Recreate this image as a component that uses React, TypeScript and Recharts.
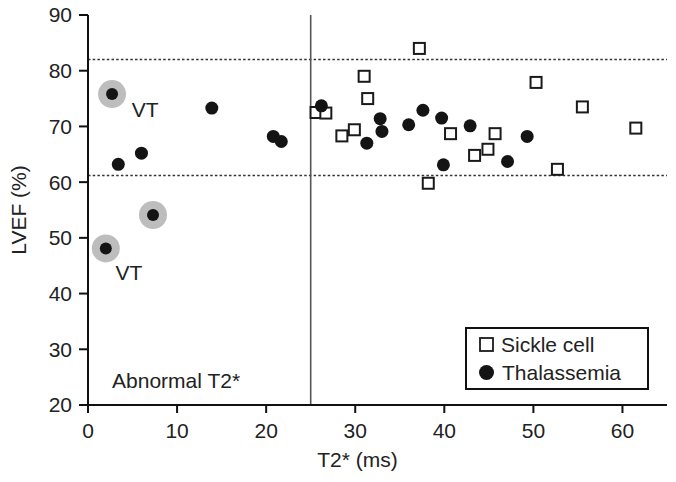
import React from 'react';
import { ScatterChart, Scatter, XAxis, YAxis, ReferenceLine } from 'recharts';

const sickleX = [25.6, 26.7, 28.5, 29.9, 31.0, 31.4, 37.2, 38.2, 40.7, 43.4, 44.9, 45.7, 50.3, 52.7, 55.5, 61.5];
const sickleY = [72.5, 72.4, 68.3, 69.4, 79.0, 75.0, 84.0, 59.8, 68.7, 64.8, 65.9, 68.7, 77.9, 62.3, 73.5, 69.7];

const thalX = [2.0, 2.7, 3.4, 6.0, 7.3, 13.9, 20.8, 21.7, 26.2, 31.3, 32.8, 33.0, 36.0, 37.6, 39.7, 39.9, 42.9, 47.1, 49.3];
const thalY = [48.1, 75.8, 63.2, 65.2, 54.1, 73.3, 68.2, 67.3, 73.7, 67.0, 71.4, 69.1, 70.3, 72.9, 71.5, 63.1, 70.1, 63.7, 68.2];
const thalHighlighted = [true, true, false, false, true, false, false, false, false, false, false, false, false, false, false, false, false, false, false];

const noteText = ['VT', 'VT', 'Abnormal T2*'];
const noteX = [4.9, 3.1, 2.7];
const noteY = [73.0, 43.7, 24.4];

const seriesNames = ['Sickle cell', 'Thalassemia'];
const xTicks = [0, 10, 20, 30, 40, 50, 60];
const yTicks = [20, 30, 40, 50, 60, 70, 80, 90];
const normalT2Cutoff = 25;
const lvefUpper = 82;
const lvefLower = 61.2;

const FONT = '"Liberation Sans", Arial, Helvetica, sans-serif';
const FS = 21;
const TXT = '#222';

const sickleData = sickleX.map((x, i) => ({ x, y: sickleY[i] }));
const thalData = thalX.map((x, i) => ({ x, y: thalY[i], hl: thalHighlighted[i] }));
const noteData = noteText.map((t, i) => ({ x: noteX[i], y: noteY[i], t }));

const SquareShape = (p: any) => {
  const s = 11;
  return <rect x={p.cx - s / 2} y={p.cy - s / 2} width={s} height={s} fill="#fff" stroke="#1a1a1a" strokeWidth={2} />;
};

const CircleShape = (p: any) => (
  <g>
    {p.payload && p.payload.hl ? <circle cx={p.cx} cy={p.cy} r={14} fill="#bdbdbd" /> : null}
    <circle cx={p.cx} cy={p.cy} r={p.payload && p.payload.hl ? 6 : 6.5} fill="#141414" />
  </g>
);

const NoteShape = (p: any) => (
  <text x={p.cx} y={p.cy} dominantBaseline="central" textAnchor="start" fontFamily={FONT} fontSize={FS} fill={TXT}>
    {p.payload.t}
  </text>
);

const LegendBox = () => (
  <svg width={185} height={64} style={{ display: 'block' }}>
    <rect x={1} y={1} width={182} height={61} fill="#fff" stroke="#111" strokeWidth={2} />
    <rect x={15} y={11} width={13} height={13} fill="#fff" stroke="#1a1a1a" strokeWidth={1.8} />
    <text x={36} y={17} dominantBaseline="central" fontFamily={FONT} fontSize={FS} fill={TXT}>{seriesNames[0]}</text>
    <circle cx={21.5} cy={45.5} r={7.5} fill="#141414" />
    <text x={37} y={45} dominantBaseline="central" fontFamily={FONT} fontSize={FS} fill={TXT}>{seriesNames[1]}</text>
  </svg>
);

export default function App() {
  return (
    <div style={{ position: 'absolute', left: 0, top: 0, width: 676, height: 482, background: '#fff' }}>
      <ScatterChart width={676} height={482} margin={{ top: 15, right: 9, bottom: 0, left: 0 }}>
        <XAxis
          type="number"
          dataKey="x"
          domain={[0, 65]}
          ticks={xTicks}
          interval={0}
          allowDataOverflow
          height={77}
          tickSize={8}
          tickMargin={10}
          axisLine={{ stroke: '#111', strokeWidth: 2 }}
          tickLine={{ stroke: '#111', strokeWidth: 2 }}
          tick={{ fontFamily: FONT, fontSize: FS, fill: TXT }}
          label={{
            content: (props: any) => {
              const vb = props.viewBox;
              return (
                <text x={vb.x + vb.width / 2 - 20} y={467} textAnchor="middle" fontFamily={FONT} fontSize={FS} fill={TXT}>
                  T2* (ms)
                </text>
              );
            },
          }}
        />
        <YAxis
          type="number"
          dataKey="y"
          domain={[20, 90]}
          ticks={yTicks}
          interval={0}
          allowDataOverflow
          width={88}
          tickSize={9}
          tickMargin={7}
          axisLine={{ stroke: '#111', strokeWidth: 2 }}
          tickLine={{ stroke: '#111', strokeWidth: 2 }}
          tick={{ fontFamily: FONT, fontSize: FS, fill: TXT }}
          label={{
            content: (props: any) => {
              const vb = props.viewBox;
              const cx = 18;
              const cy = vb.y + vb.height / 2;
              return (
                <text x={cx} y={cy} transform={`rotate(-90, ${cx}, ${cy})`} textAnchor="middle" dominantBaseline="central" fontFamily={FONT} fontSize={FS} fill={TXT}>
                  LVEF (%)
                </text>
              );
            },
          }}
        />
        <ReferenceLine y={lvefUpper} stroke="#333" strokeWidth={1.5} strokeDasharray="2.5 2.2" />
        <ReferenceLine y={lvefLower} stroke="#333" strokeWidth={1.5} strokeDasharray="2.5 2.2" />
        <ReferenceLine x={normalT2Cutoff} stroke="#555" strokeWidth={1.6} />
        <Scatter name={seriesNames[0]} data={sickleData} shape={SquareShape} isAnimationActive={false} />
        <Scatter name={seriesNames[1]} data={thalData} shape={CircleShape} isAnimationActive={false} />
        <Scatter name="notes" data={noteData} shape={NoteShape} isAnimationActive={false} legendType="none" />
      </ScatterChart>
      <div style={{ position: 'absolute', left: 465, top: 327 }}>
        <LegendBox />
      </div>
    </div>
  );
}
